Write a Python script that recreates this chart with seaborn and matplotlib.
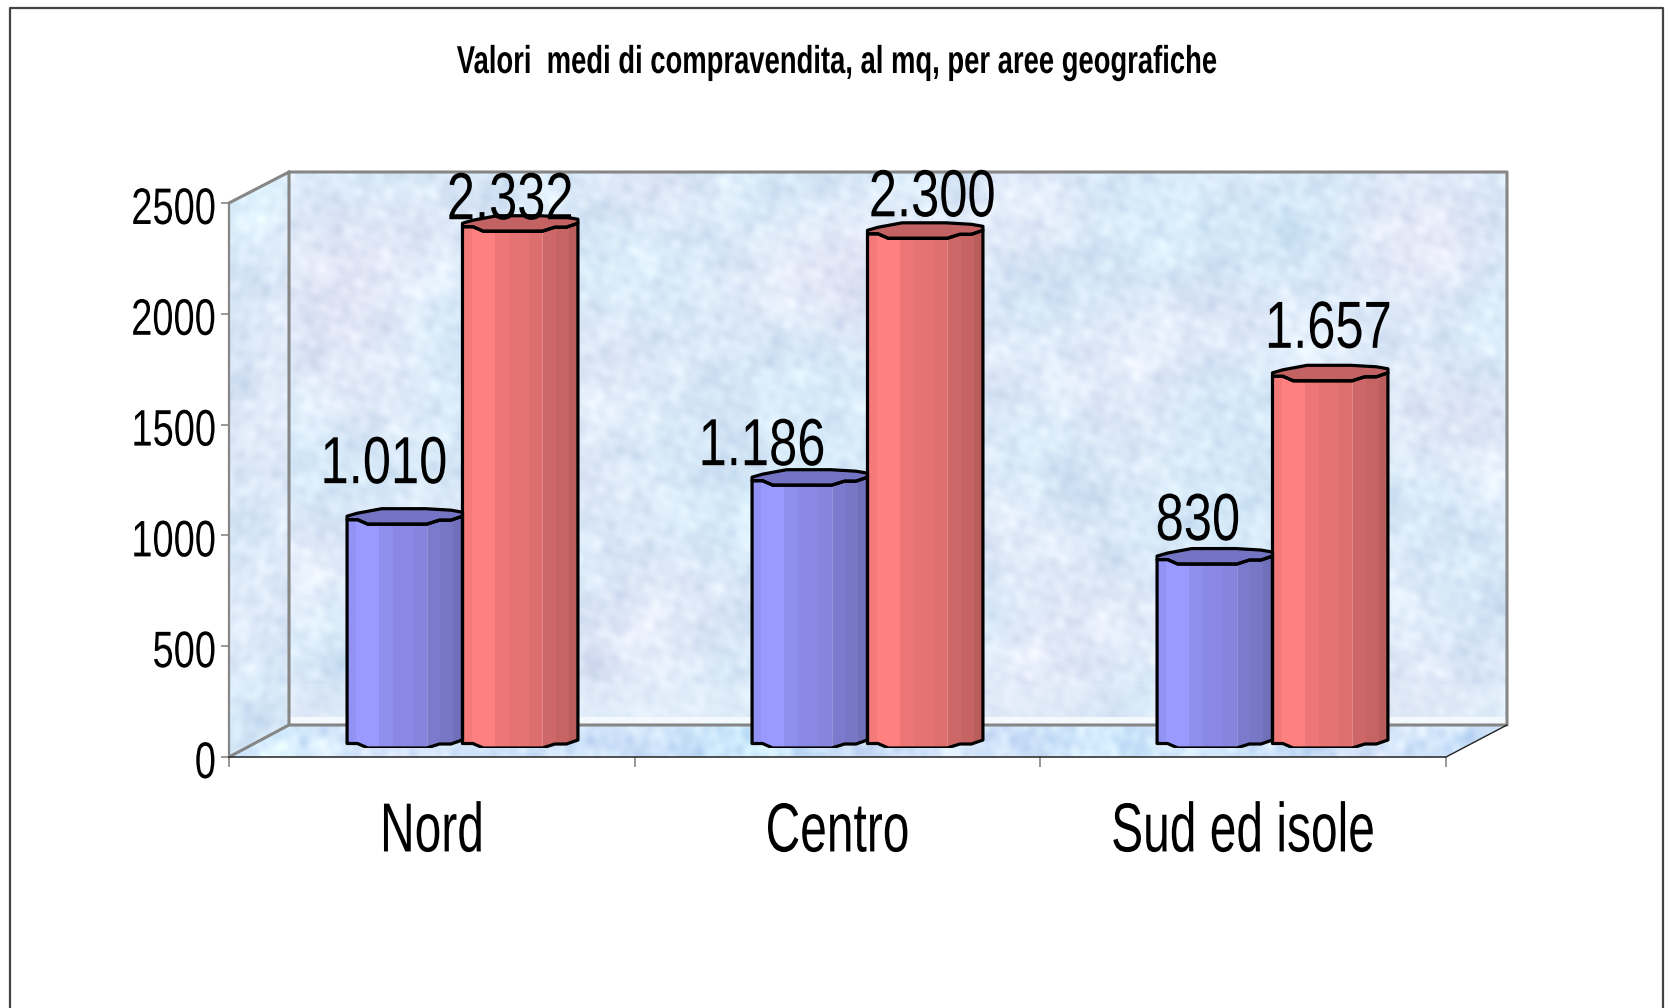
import numpy as np
import pandas as pd
import matplotlib
matplotlib.use("Agg")
import matplotlib.pyplot as plt
from matplotlib.patches import Polygon
from matplotlib.patheffects import AbstractPathEffect
from matplotlib.transforms import Affine2D
import seaborn as sns

# values
areas = ['Nord', 'Centro', 'Sud ed isole']
series_names = ['A', 'B']
values_a = [1010, 1186, 830]
values_b = [2332, 2300, 1657]
y_ticks = [0, 500, 1000, 1500, 2000, 2500]
title_text = 'Valori  medi di compravendita, al mq, per aree geografiche'

# hand placed data label offsets, pixels from bar top (a bars then b bars)
label_dx = [-21, -48, -17, -10, 7, -2]
label_dy = [58, 37, 41, 29, 39, 50]

W, H = 1670, 1008
sns.set_style("white")
plt.rcParams['font.family'] = ['Liberation Sans', 'DejaVu Sans']


class Narrow(AbstractPathEffect):
    # the reference uses a condensed face, squeeze the glyphs sideways
    def __init__(self, sx, anchor='center', shift_y=0):
        super().__init__()
        self.sx = sx
        self.anchor = anchor
        self.shift_y = shift_y

    def draw_path(self, renderer, gc, tpath, affine, rgbFace=None):
        e = tpath.get_extents()
        xc = e.x1 if self.anchor == 'right' else (e.x0 + e.x1) / 2
        aff = Affine2D().translate(-xc, 0).scale(self.sx, 1).translate(xc, 0) + affine
        aff = aff + Affine2D().translate(0, self.shift_y)
        renderer.draw_path(gc, tpath, aff, rgbFace)


def add_axes_px(fig, left, right, top, bottom, zorder):
    a = fig.add_axes([left / W, 1 - bottom / H, (right - left) / W, (bottom - top) / H])
    a.set_zorder(zorder)
    a.patch.set_alpha(0)
    return a


def waves(xx, yy, seed, f0, n_waves):
    # many plane waves at scattered angles, adds up to a cloudy mottle
    out = np.zeros_like(xx)
    for j in range(n_waves):
        ang = j * 2.39996 + seed
        f = f0 * 1.09 ** j
        out += np.sin(f * (xx * np.cos(ang) + yy * np.sin(ang)) + j * j * .7 + seed)
    return out / np.sqrt(n_waves / 2)


def texture(shape, seed, base, amp):
    yy, xx = np.mgrid[0:shape[0], 0:shape[1]].astype(float)
    n = waves(xx, yy, seed, .03, 34)
    tint = waves(xx, yy, seed + 1.7, .012, 16)
    img = np.zeros(tuple(shape) + (3,))
    for c in range(3):
        img[..., c] = base[c] + amp[c] * n
    img[..., 0] += 3.5 * tint
    return np.clip(img, 0, 255) / 255


fig = plt.figure(figsize=(W / 100, H / 100), dpi=100, facecolor='white')

# background: walls, floor, frame in pixel coordinates
bg = fig.add_axes([0, 0, 1, 1], zorder=0)
bg.set_xlim(0, W)
bg.set_ylim(H, 0)
bg.axis('off')

wall_base, wall_amp = (219, 233, 248), (6, 5, 3)
walls = [
    ([(289, 172), (1507, 172), (1507, 725), (289, 725)], (289, 1507, 725, 172),
     texture((553, 1218), 1.3, wall_base, wall_amp)),
    ([(229, 203), (289, 172), (289, 725), (229, 757)], (229, 289, 757, 172),
     texture((585, 60), 2.7, wall_base, wall_amp)),
    ([(229, 757), (289, 725), (1507, 725), (1446, 757)], (229, 1507, 757, 725),
     texture((32, 1278), 2.1, (208, 228, 250), (9, 7, 3))),
]
for pts, ext, img in walls:
    poly = Polygon(pts, closed=True, fc='none', ec='none')
    bg.add_patch(poly)
    im = bg.imshow(img, extent=ext, aspect='auto', interpolation='bilinear', zorder=1)
    im.set_clip_path(poly)
bg.set_xlim(0, W)
bg.set_ylim(H, 0)

bg.fill_between([289, 1507], 717, 724, color='#f4f9fd', lw=0, zorder=2)
bg.fill_between([289, 1507], 684, 717, color='#e6f2fc', alpha=.3, lw=0, zorder=2)

wall_col = '#868686'
bg.plot([229, 289, 1507, 1507, 289, 289], [203, 172, 172, 725, 725, 172], color=wall_col, lw=2.2, zorder=3)
bg.plot([229, 289], [757, 725], color=wall_col, lw=2.2, zorder=3)
bg.plot([1446, 1507], [757, 725], color='#222222', lw=1, zorder=3)

# outer frame runs off the bottom of the picture
bg.plot([9.5, 9.5, 1663, 1663], [H + 5, 7.5, 7.5, H + 5], color='#444444', lw=1.6, zorder=3)

bg.text(837, 63, title_text, ha='center', va='center', fontsize=28, fontweight='bold', color='black',
        path_effects=[Narrow(.705)])

# front plane axis, carries ticks and tick labels
ax = add_axes_px(fig, 229, 1446, 203, 757, 1)
ax.set_xlim(-.5, 2.5)
ax.set_ylim(0, 2500)
ax.set_yticks(y_ticks)
ax.set_yticklabels([str(t) for t in y_ticks], fontsize=37, color='black')
ax.set_xticks([-.5, .5, 1.5, 2.5])
ax.set_xticklabels([])
ax.set_xticks(range(len(areas)), labels=areas, minor=True, fontsize=50, color='black')
ax.tick_params(axis='y', left=True, length=6, width=1.2, color=wall_col, pad=3)
ax.tick_params(axis='x', which='major', bottom=True, length=7, width=1.2, color=wall_col)
ax.tick_params(axis='x', which='minor', bottom=False, length=0, pad=32)
for t in ax.get_yticklabels():
    t.set_path_effects([Narrow(.74, 'right', -2)])
for t in ax.get_xticklabels(minor=True):
    t.set_path_effects([Narrow(.69)])
for s in ['top', 'right']:
    ax.spines[s].set_visible(False)
ax.spines['left'].set_color(wall_col)
ax.spines['left'].set_linewidth(1.6)
ax.spines['bottom'].set_color('#333333')
ax.spines['bottom'].set_linewidth(1.2)

# bars sit on a plane shifted into the depth of the box
ax_bars = add_axes_px(fig, 260, 1475, 194, 748, 2)
df = pd.DataFrame({
    'area': areas * 2,
    'serie': [series_names[0]] * len(areas) + [series_names[1]] * len(areas),
    'value': values_a + values_b,
})
sns.barplot(data=df, x='area', y='value', hue='serie', order=areas, hue_order=series_names,
            width=.57, gap=0, legend=False, errorbar=None, ax=ax_bars,
            palette={'A': '#9999ff', 'B': '#ff8080'}, saturation=1)
ax_bars.set_xlim(-.5, 2.5)
ax_bars.set_ylim(0, 2500)
ax_bars.axis('off')

# cylinder look: vertical colour bands, fractions of the bar width
band_edges = [.08, .28, .40, .57, .69, .80, .91]
band_shade = [.96, 1.0, .93, .90, .87, .81, .78, .73]
front_curve = [(0, 4.5), (.09, 4.5), (.18, 0), (.69, 0), (.80, 4), (.90, 4), (1, 8)]
top_back = [(1, 12), (.90, 14), (.68, 15.5), (.30, 15.5), (.09, 11), (0, 8)]
px_y = 2500 / 554
base_cols = {'A': (0x99, 0x99, 0xff), 'B': (0xff, 0x80, 0x80)}
top_cols = {'A': '#7474c4', 'B': '#c26262'}

bars = [b for b in ax_bars.patches if b.get_height() > 0]
labels_order = [(s, i) for s in series_names for i in range(len(areas))]
for k, (bar, (serie, i)) in enumerate(zip(bars, labels_order)):
    x0, w, h = bar.get_x(), bar.get_width(), bar.get_height()
    bar.set_facecolor('none')
    bar.set_edgecolor('none')

    lower = [(x0 + f * w, d * px_y) for f, d in front_curve]
    upper = [(x0 + f * w, h + d * px_y) for f, d in front_curve]
    body = Polygon(lower + upper[::-1], closed=True, fc='none', ec='none', zorder=3)
    ax_bars.add_patch(body)

    idx = np.searchsorted(band_edges, np.linspace(0, 1, 200))
    strip = np.array([[np.array(base_cols[serie]) * band_shade[j] / 255 for j in idx]])
    im = ax_bars.imshow(strip, extent=(x0, x0 + w, 0, h + 12 * px_y), aspect='auto',
                        interpolation='nearest', zorder=3)
    im.set_clip_path(body)

    # faint facet edge on the shaded side
    ax_bars.plot([x0 + .69 * w] * 2, [0, h], color='white', alpha=.18, lw=.8, zorder=3.5)

    back = [(x0 + f * w, h + d * px_y) for f, d in top_back]
    ax_bars.add_patch(Polygon(upper + back, closed=True, fc=top_cols[serie], ec='black',
                              lw=2.3, joinstyle='round', zorder=4))
    ax_bars.add_patch(Polygon(lower + upper[::-1], closed=True, fc='none', ec='black',
                              lw=2.3, joinstyle='round', zorder=4))

    txt = f"{int(h):,}".replace(',', '.')
    ax_bars.annotate(txt, (x0 + w / 2, h), xytext=(label_dx[k] * .72, label_dy[k] * .72),
                     textcoords='offset points', ha='center', va='center',
                     fontsize=48, color='black', zorder=6, annotation_clip=False,
                     path_effects=[Narrow(.76)])

ax_bars.set_xlim(-.5, 2.5)
ax_bars.set_ylim(0, 2500)

fig.savefig('out.png', dpi=100)
